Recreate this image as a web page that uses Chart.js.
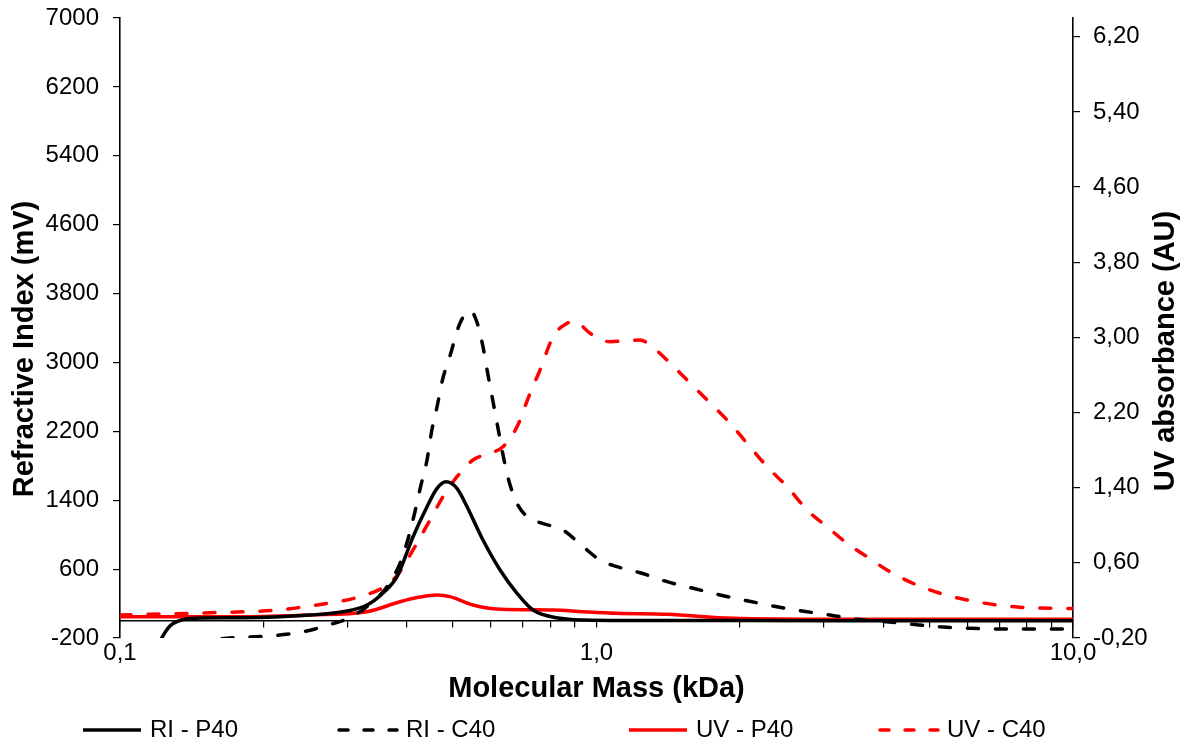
<!DOCTYPE html>
<html>
<head>
<meta charset="utf-8">
<title>GPC profiles</title>
<script src="https://cdn.jsdelivr.net/npm/chart.js@4.4.1/dist/chart.umd.min.js"></script>
<style>
  html, body { margin: 0; padding: 0; background: #fff; }
  #wrap { width: 1191px; height: 746px; position: relative; }
</style>
</head>
<body>
<div id="wrap"><canvas id="gpc-chart"></canvas></div>
<script>
// Molecular mass (kDa) and detector response for each run

const riP40Mass = [0.1156, 0.1213, 0.1273, 0.1349, 0.1437, 0.1812, 0.2505, 0.2938, 0.3299, 0.3565, 0.3814, 0.4121, 0.4409, 0.4628, 0.4833, 0.5096, 0.5349, 0.5778, 0.6275, 0.6811, 0.7356, 0.8382, 0.937, 1.234, 2.0, 5.0, 10];
const riP40Signal = [-520, -240, -60, 10, 30, 35, 67, 105, 183, 323, 512, 976, 1325, 1538, 1615, 1538, 1325, 938, 590, 319, 125, 29, 9, 3, 2, 1, 0];

const riC40Mass = [0.1156, 0.1369, 0.1508, 0.1703, 0.1967, 0.2307, 0.2566, 0.2757, 0.2993, 0.3268, 0.3634, 0.3869, 0.4016, 0.4153, 0.4274, 0.4409, 0.4513, 0.4628, 0.4750, 0.4920, 0.5172, 0.5437, 0.5622, 0.5778, 0.5911, 0.6056, 0.6204, 0.6356, 0.6511, 0.6811, 0.7158, 0.7612, 0.8502, 0.937, 1.017, 1.104, 1.234, 1.406, 1.596, 1.817, 2.068, 2.346, 2.675, 3.09, 3.515, 4.06, 4.61, 5.25, 6.06, 6.9, 10];
const riC40Signal = [-600, -246, -223, -200, -183, -148, -95, -43, 21, 148, 396, 667, 938, 1252, 1557, 1867, 2215, 2486, 2796, 3067, 3458, 3600, 3455, 3183, 2874, 2564, 2254, 1945, 1673, 1364, 1209, 1139, 1054, 860, 706, 628, 558, 454, 377, 299, 233, 172, 117, 67, 17, -11, -41, -69, -87, -95, -95];

const uvP40Mass = [0.1, 0.1812, 0.2505, 0.3299, 0.3869, 0.4262, 0.4628, 0.4927, 0.5506, 0.6275, 0.8106, 0.937, 1.104, 1.406, 1.934, 3.136, 10];
const uvP40Signal = [0.027, 0.027, 0.045, 0.080, 0.186, 0.236, 0.258, 0.240, 0.151, 0.106, 0.098, 0.080, 0.063, 0.052, 0.010, 0.0, 0.0];

const uvC40Mass = [0.1, 0.1545, 0.2136, 0.2719, 0.3189, 0.3634, 0.3869, 0.4121, 0.4473, 0.4763, 0.5096, 0.5506, 0.5976, 0.6365, 0.6811, 0.7252, 0.7612, 0.8106, 0.8674, 0.9015, 0.9692, 1.067, 1.159, 1.234, 1.295, 1.406, 1.549, 1.706, 1.879, 2.070, 2.280, 2.511, 2.766, 3.046, 3.356, 3.696, 4.071, 4.615, 5.26, 5.993, 6.927, 8.008, 10];
const uvC40Signal = [0.045, 0.069, 0.098, 0.169, 0.240, 0.364, 0.506, 0.737, 1.056, 1.304, 1.517, 1.695, 1.766, 1.836, 2.049, 2.405, 2.653, 3.007, 3.150, 3.169, 3.044, 2.954, 2.967, 2.972, 2.919, 2.759, 2.546, 2.334, 2.121, 1.873, 1.624, 1.411, 1.163, 0.985, 0.808, 0.665, 0.524, 0.382, 0.276, 0.205, 0.151, 0.123, 0.114];

// axis ticks
const massLabelTicks = [0.1, 1, 10];
const massGridTicks = [0.1, 0.2, 0.3, 0.4, 0.5, 0.6, 0.7, 0.8, 0.9, 1, 2, 3, 4, 5, 6, 7, 8, 9, 10];
const riTicks = [-200, 600, 1400, 2200, 3000, 3800, 4600, 5400, 6200, 7000];
const uvTicks = [-0.2, 0.6, 1.4, 2.2, 3.0, 3.8, 4.6, 5.4, 6.2];

const FONT = '"Liberation Sans", Arial, sans-serif';
const tickFont = { family: FONT, size: 24 };
const titleFont = { family: FONT, size: 29, weight: 'bold' };
const DASH = [11, 17];
const KEY_DASH = [9, 16];

const toPoints = (xs, ys) => xs.map((x, i) => ({ x, y: ys[i] }));

function series(label, xs, ys, color, dashed, axis) {
  return {
    label,
    data: toPoints(xs, ys),
    yAxisID: axis,
    borderColor: color,
    borderWidth: 3.5,
    borderDash: dashed ? DASH : [],
    borderCapStyle: dashed ? 'round' : 'butt',
    cubicInterpolationMode: 'monotone',
    pointRadius: 0,
    fill: false
  };
}

// value axes: fixed width, no extra room above/below for the end labels
function fixWidth(width) {
  return s => {
    s.width = width;
    s.paddingTop = 0;
    s.paddingBottom = 0;
  };
}

// line key drawn below the x-axis title, one column per run
const keyColumns = [81, 337, 627, 878];
const lineKey = {
  id: 'lineKey',
  afterDraw(chart) {
    const { ctx } = chart;
    const y = chart.height - 16;
    ctx.save();
    ctx.font = `24px ${FONT}`;
    ctx.textBaseline = 'middle';
    ctx.textAlign = 'left';
    chart.data.datasets.forEach((ds, i) => {
      const x = keyColumns[i];
      ctx.beginPath();
      ctx.strokeStyle = ds.borderColor;
      ctx.lineWidth = ds.borderWidth;
      ctx.lineCap = ds.borderCapStyle;
      ctx.setLineDash(ds.borderDash.length ? KEY_DASH : []);
      ctx.moveTo(x + 2, y);
      ctx.lineTo(x + 60, y);
      ctx.stroke();
      ctx.setLineDash([]);
      ctx.fillStyle = '#000';
      ctx.fillText(ds.label, x + 69, y);
    });
    ctx.restore();
  }
};

// both value-axis titles read bottom to top
const sideTitles = {
  id: 'sideTitles',
  afterDraw(chart) {
    const { ctx } = chart;
    const items = [
      { text: 'Refractive Index (mV)', x: 25, y: 349 },
      { text: 'UV absorbance (AU)', x: 1166, y: 351 }
    ];
    ctx.save();
    ctx.font = `bold 29px ${FONT}`;
    ctx.fillStyle = '#000';
    ctx.textAlign = 'center';
    ctx.textBaseline = 'middle';
    items.forEach(t => {
      ctx.save();
      ctx.translate(t.x, t.y);
      ctx.rotate(-Math.PI / 2);
      ctx.fillText(t.text, 0, 0);
      ctx.restore();
    });
    ctx.restore();
  }
};

new Chart(document.getElementById('gpc-chart'), {
  type: 'line',
  data: {
    datasets: [
      series('RI - P40', riP40Mass, riP40Signal, '#000000', false, 'y'),
      series('RI - C40', riC40Mass, riC40Signal, '#000000', true, 'y'),
      series('UV - P40', uvP40Mass, uvP40Signal, '#ff0000', false, 'yUV'),
      series('UV - C40', uvC40Mass, uvC40Signal, '#ff0000', true, 'yUV')
    ]
  },
  options: {
    responsive: true,
    maintainAspectRatio: false,
    animation: false,
    layout: { padding: { top: 18, bottom: 36, left: 0, right: 0 } },
    plugins: {
      legend: { display: false },
      tooltip: { enabled: false }
    },
    scales: {
      x: {
        type: 'logarithmic',
        position: 'bottom',
        min: 0.1,
        max: 10,
        afterBuildTicks: s => { s.ticks = massLabelTicks.map(v => ({ value: v })); },
        ticks: {
          autoSkip: false,
          maxRotation: 0,
          padding: 1,
          color: '#000',
          font: tickFont,
          callback: v => Number(v).toFixed(1).replace('.', ',')
        },
        grid: { display: false, drawTicks: false },
        border: { display: false },
        title: {
          display: true,
          text: 'Molecular Mass (kDa)',
          color: '#000',
          font: titleFont,
          padding: { top: 0, bottom: 4 }
        },
        afterFit: s => { s.height = 72; }
      },
      // baseline axis crossing the RI scale at zero
      xLine: {
        type: 'logarithmic',
        position: { y: 0 },
        min: 0.1,
        max: 10,
        afterBuildTicks: s => { s.ticks = massGridTicks.map(v => ({ value: v })); },
        ticks: { display: false },
        grid: { drawOnChartArea: false, drawTicks: true, tickLength: 6, color: '#000', lineWidth: 1.2 },
        border: { display: true, color: '#000', width: 1.6 }
      },
      y: {
        position: 'left',
        min: -200,
        max: 7000,
        afterBuildTicks: s => { s.ticks = riTicks.map(v => ({ value: v })); },
        ticks: { color: '#000', font: tickFont, padding: 14, callback: v => String(v) },
        grid: { drawOnChartArea: false, tickLength: 7, color: '#000', lineWidth: 1.2 },
        border: { color: '#000', width: 1.6 },
        afterFit: fixWidth(120)
      },
      yUV: {
        position: 'right',
        min: -0.2,
        max: 6.4,
        afterBuildTicks: s => { s.ticks = uvTicks.map(v => ({ value: v })); },
        ticks: { color: '#000', font: tickFont, padding: 13, callback: v => Number(v).toFixed(2).replace('.', ',') },
        grid: { drawOnChartArea: false, tickLength: 7, color: '#000', lineWidth: 1.2 },
        border: { color: '#000', width: 1.6 },
        afterFit: fixWidth(118)
      }
    }
  },
  plugins: [lineKey, sideTitles]
});
</script>
</body>
</html>
